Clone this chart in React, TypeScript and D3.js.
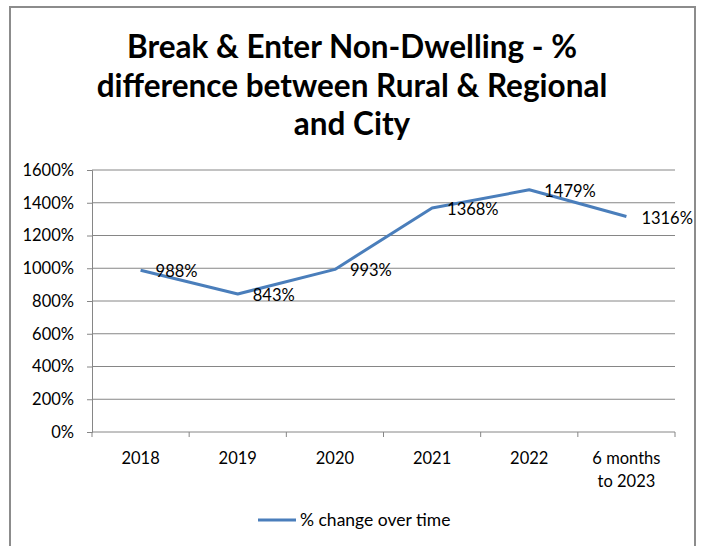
import React, { useRef, useEffect } from 'react';
import * as d3 from 'd3';

const categories = ['2018', '2019', '2020', '2021', '2022', '6 months\nto 2023'];
const values = [988, 843, 993, 1368, 1479, 1316];
const yTicks = [0, 200, 400, 600, 800, 1000, 1200, 1400, 1600];
const titleLines = ['Break & Enter Non-Dwelling - %', 'difference between Rural & Regional', 'and City'];
const seriesName = '% change over time';

const W = 704;
const H = 546;
const FONT = 'Lato, "Open Sans", sans-serif';

const App = () => {
  const ref = useRef<SVGSVGElement | null>(null);

  useEffect(() => {
    const svg = d3.select(ref.current);
    svg.selectAll('*').remove();

    const margin = { top: 170, left: 92, right: 29, bottom: 114 };
    const plotW = W - margin.left - margin.right;
    const plotH = H - margin.top - margin.bottom;

    svg.append('rect').attr('width', W).attr('height', H).attr('fill', '#fff');
    // outer chart border
    svg
      .append('rect')
      .attr('x', 10)
      .attr('y', 7)
      .attr('width', 685)
      .attr('height', 560)
      .attr('fill', 'none')
      .attr('stroke', '#8c8c8c')
      .attr('stroke-width', 2);

    // title
    svg
      .append('g')
      .selectAll('text')
      .data(titleLines)
      .enter()
      .append('text')
      .attr('x', 352)
      .attr('y', (d, i) => 58 + i * 38.5)
      .attr('text-anchor', 'middle')
      .attr('font-family', FONT)
      .attr('font-weight', 'bold')
      .attr('font-size', 31.5)
      .attr('fill', '#000')
      .text((d) => d);

    const x = d3.scaleBand().domain(categories).range([0, plotW]);
    const y = d3.scaleLinear().domain([0, 1600]).range([plotH, 0]);

    const g = svg.append('g').attr('transform', `translate(${margin.left},${margin.top})`);

    // gridlines
    g.append('g')
      .selectAll('line')
      .data(yTicks.filter((d) => d > 0))
      .enter()
      .append('line')
      .attr('x1', 0)
      .attr('x2', plotW)
      .attr('y1', (d) => y(d))
      .attr('y2', (d) => y(d))
      .attr('stroke', '#868686')
      .attr('stroke-width', 1);

    // y axis
    const yAxis = d3
      .axisLeft(y)
      .tickValues(yTicks)
      .tickSize(5)
      .tickPadding(13)
      .tickFormat((d) => d + '%');
    const yg = g.append('g').call(yAxis);
    yg.selectAll('path, line').attr('stroke', '#868686');
    yg.selectAll('text')
      .attr('font-family', FONT)
      .attr('font-size', 16.5)
      .attr('fill', '#000');

    // x axis
    const xg = g.append('g').attr('transform', `translate(0,${plotH})`);
    xg.append('line').attr('x1', 0).attr('x2', plotW).attr('stroke', '#868686');
    xg.selectAll('line.tick')
      .data(d3.range(categories.length + 1))
      .enter()
      .append('line')
      .attr('class', 'tick')
      .attr('x1', (i) => i * x.step())
      .attr('x2', (i) => i * x.step())
      .attr('y1', 0)
      .attr('y2', 5)
      .attr('stroke', '#868686');
    const xl = xg
      .selectAll('text')
      .data(categories)
      .enter()
      .append('text')
      .attr('text-anchor', 'middle')
      .attr('font-family', FONT)
      .attr('font-size', 16.5)
      .attr('fill', '#000');
    xl.each(function (d) {
      const t = d3.select(this);
      d.split('\n').forEach((line, i) => {
        t.append('tspan')
          .attr('x', (x(d) as number) + x.bandwidth() / 2)
          .attr('y', 32 + i * 23)
          .text(line);
      });
    });

    // series line
    const line = d3
      .line<number>()
      .x((d, i) => (x(categories[i]) as number) + x.bandwidth() / 2)
      .y((d) => y(d));
    g.append('path')
      .datum(values)
      .attr('fill', 'none')
      .attr('stroke', '#4a7ebb')
      .attr('stroke-width', 3)
      .attr('stroke-linejoin', 'round')
      .attr('d', line);

    // data labels
    g.append('g')
      .selectAll('text')
      .data(values)
      .enter()
      .append('text')
      .attr('x', (d, i) => (x(categories[i]) as number) + x.bandwidth() / 2 + 15)
      .attr('y', (d) => y(d) + 7)
      .attr('font-family', FONT)
      .attr('font-size', 16.5)
      .attr('fill', '#000')
      .text((d) => d + '%');

    // legend
    const lg = svg.append('g').attr('transform', 'translate(258,520)');
    lg.append('line').attr('x1', 0).attr('x2', 38).attr('stroke', '#4a7ebb').attr('stroke-width', 3);
    lg.append('text')
      .attr('x', 42)
      .attr('y', 6)
      .attr('font-family', FONT)
      .attr('font-size', 17.5)
      .attr('fill', '#000')
      .text(seriesName);
  }, []);

  return (
    <svg
      ref={ref}
      width={W}
      height={H}
      style={{ position: 'absolute', left: 0, top: 0, display: 'block' }}
    />
  );
};

export default App;
